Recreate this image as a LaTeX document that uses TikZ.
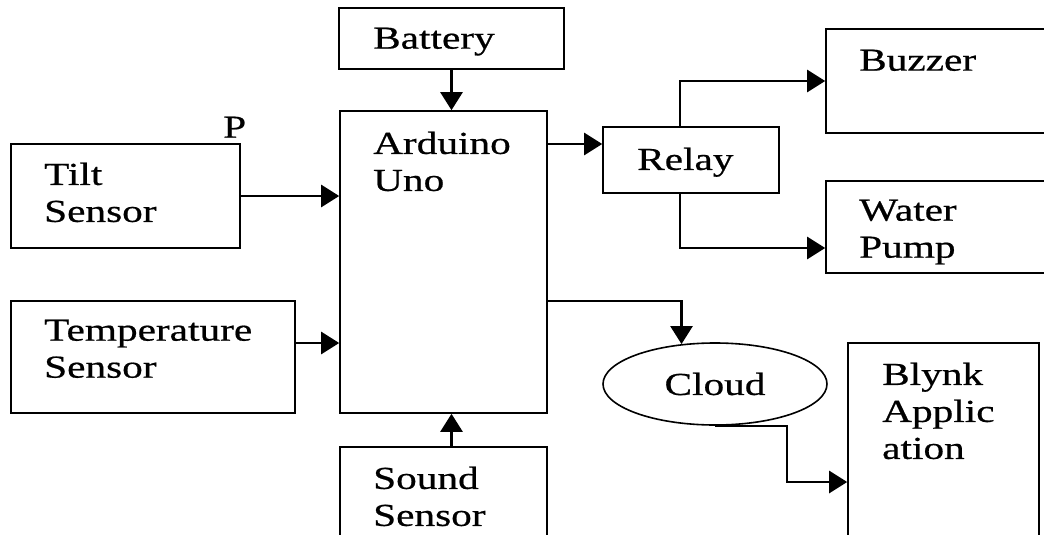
\documentclass[tikz,border=0pt]{standalone}
\usepackage{fontspec}
\setmainfont{Liberation Serif}[FakeStretch=1.29,FakeBold=0.6]
\usetikzlibrary{arrows.meta,positioning,shapes.geometric}
\tikzset{
  blk/.style={draw=black, line width=1.6pt, inner sep=0pt},
  txt/.style={font=\fontsize{32}{37}\selectfont, align=left, anchor=north west, inner sep=0pt},
  cld/.style={blk, ellipse, font=\fontsize{32}{37}\selectfont},
  sig/.style={-{Triangle[length=18pt,width=22pt]}, line width=2.6pt},
}
\begin{document}
\begin{tikzpicture}[x=1pt,y=-1pt]
    \useasboundingbox (0,0) rectangle (1044,535);
    \clip (0,0) rectangle (1044,535);
    % boxes
    \node[blk, minimum width=225, minimum height=61] (battery) at (451.5,38.5) {};
    \node[blk, minimum width=207, minimum height=302] (arduino) at (443.5,262) {};
    \node[blk, minimum width=229, minimum height=104] (tilt) at (125.5,196) {};
    \node[blk, minimum width=284, minimum height=112] (temp) at (153,357) {};
    \node[blk, minimum width=207, minimum height=113] (sound) at (443.5,503.5) {};
    \node[blk, minimum width=176, minimum height=66] (relay) at (691,160) {};
    \node[blk, minimum width=244, minimum height=104] (buzzer) at (948,81) {};
    \node[blk, minimum width=244, minimum height=92] (pump) at (948,227) {};
    \node[cld, minimum width=224, minimum height=82] (cloud) at (715,384) {Cloud};
    \node[blk, minimum width=191, minimum height=278] (blynk) at (943.5,482) {};
    % texts
    \node[txt] (batteryT) at (373,27.5) {Battery};
    \node[txt] (arduinoT) at (373,131.5) {Arduino\\Uno};
    \node[txt] (tiltT) at (44,162.5) {Tilt\\Sensor};
    \node[txt] (pin) at (223,116.5) {P};
    \node[txt] (tempT) at (44,319.5) {Temperature\\Sensor};
    \node[txt] (soundT) at (373,466.5) {Sound\\Sensor};
    \node[txt] (relayT) at (637,147.5) {Relay};
    \node[txt] (buzzerT) at (859,49.5) {Buzzer};
    \node[txt] (pumpT) at (859,199.5) {Water\\Pump};
    \node[txt] (blynkT) at (882,362.5) {Blynk\\Applic\\ation};
    % signals
    \draw[sig] (battery) -- (arduino.north -| battery);
    \draw[sig] (sound.north -| battery) -- (arduino.south -| battery);
    \draw[sig] (tilt) -- (tilt -| arduino.west);
    \draw[sig] ([yshift=14pt]temp.east) -- ([yshift=14pt]temp.east -| arduino.west);
    \draw[sig] ([yshift=16pt]relay.west -| arduino.east) -- ([yshift=16pt]relay.west);
    \draw[sig] ([xshift=-11pt]relay.north) |- (buzzer.west);
    \draw[sig] ([xshift=-11pt]relay.south) |- ([yshift=-21pt]pump.west);
    \draw[sig] ([yshift=-39pt]arduino.east) -| (cloud.130);
    \draw[sig] (cloud.south) -- ++(72,0) |- (blynk.west);
\end{tikzpicture}
\end{document}
